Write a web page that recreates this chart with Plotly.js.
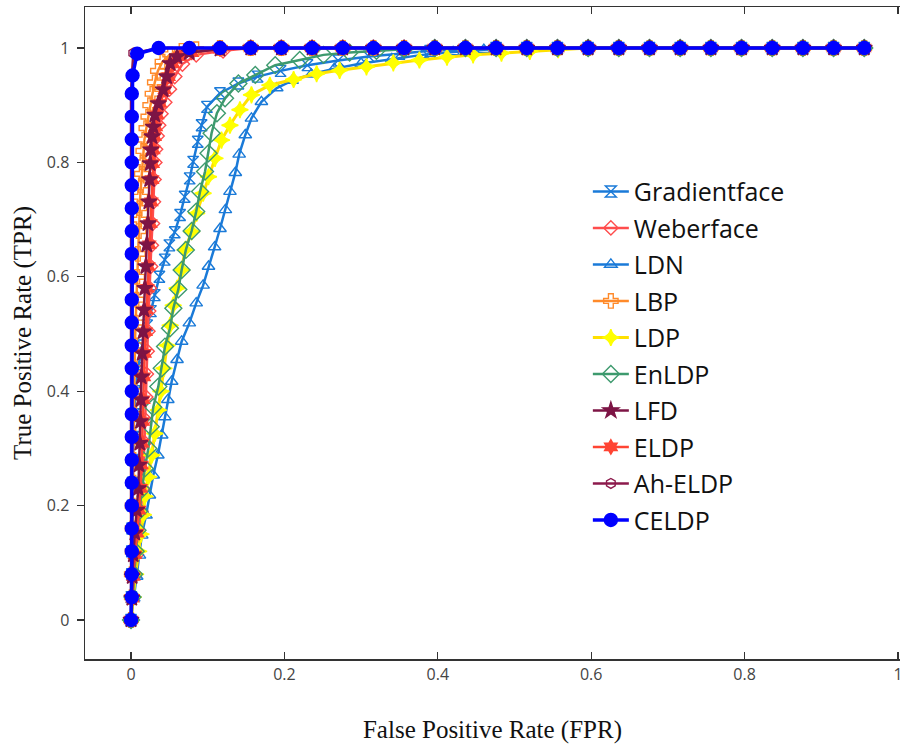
<!DOCTYPE html>
<html>
<head>
<meta charset="utf-8">
<script src="https://cdn.plot.ly/plotly-3.0.1.min.js"></script>
<style>html,body{margin:0;padding:0;background:#fff;overflow:hidden;}</style>
</head>
<body>
<div id="chart" style="width:901px;height:744px;"></div>
<script>
// ---- Data ----
const seriesNames = ["Gradientface","Weberface","LDN","LBP","LDP","EnLDP","LFD","ELDP","Ah-ELDP","CELDP"];

const gradientfaceFPR = [0,0.0005,0.001,0.001,0.0015,0.002,0.002,0.0025,0.003,0.004,0.006,0.009,0.015,0.021,0.026,0.031,0.037,0.044,0.050,0.057,0.064,0.070,0.0765,0.081,0.087,0.092,0.099,0.116,0.140,0.165,0.195,0.230,0.270,0.310,0.350,0.390,0.436,0.476,0.516,0.556,0.596,0.636,0.676,0.716,0.756,0.796,0.836,0.876,0.916,0.956];
const gradientfaceTPR = [0,0.04,0.08,0.12,0.16,0.2,0.24,0.28,0.32,0.36,0.40,0.44,0.48,0.515,0.54,0.568,0.60,0.63,0.655,0.678,0.708,0.740,0.772,0.801,0.836,0.865,0.897,0.921,0.938,0.950,0.960,0.970,0.978,0.985,0.990,0.995,0.998,1,1,1,1,1,1,1,1,1,1,1,1,1];

const weberfaceFPR = [0,0.002,0.004,0.007,0.010,0.013,0.015,0.0165,0.0175,0.0185,0.0192,0.020,0.021,0.022,0.023,0.024,0.0255,0.0265,0.028,0.0292,0.030,0.031,0.032,0.034,0.036,0.039,0.044,0.050,0.057,0.067,0.085,0.120,0.156,0.196,0.236,0.276,0.316,0.356,0.396,0.436,0.476,0.516,0.556,0.596,0.636,0.676,0.716,0.756,0.796,0.836,0.876,0.916,0.956];
const weberfaceTPR = [0,0.04,0.076,0.114,0.152,0.19,0.23,0.27,0.31,0.35,0.39,0.43,0.47,0.505,0.54,0.58,0.618,0.655,0.693,0.731,0.77,0.80,0.823,0.846,0.865,0.885,0.905,0.928,0.95,0.972,0.988,0.995,1,1,1,1,1,1,1,1,1,1,1,1,1,1,1,1,1,1,1,1,1];

const ldnFPR = [0,0.0035,0.0074,0.011,0.014,0.0196,0.024,0.029,0.035,0.040,0.044,0.048,0.053,0.060,0.066,0.076,0.085,0.094,0.101,0.109,0.116,0.123,0.129,0.136,0.141,0.149,0.157,0.170,0.190,0.210,0.235,0.265,0.300,0.340,0.380,0.420,0.460,0.516,0.556,0.596,0.636,0.676,0.716,0.756,0.796,0.836,0.876,0.916,0.956];
const ldnTPR = [0,0.038,0.076,0.113,0.148,0.183,0.218,0.253,0.288,0.323,0.355,0.385,0.417,0.455,0.487,0.519,0.554,0.585,0.618,0.652,0.684,0.717,0.749,0.782,0.814,0.848,0.877,0.906,0.930,0.943,0.954,0.964,0.973,0.981,0.988,0.993,0.997,1,1,1,1,1,1,1,1,1,1,1,1];

const lbpFPR = [0,0.001,0.001,0.002,0.002,0.002,0.003,0.003,0.003,0.004,0.004,0.005,0.005,0.006,0.007,0.008,0.009,0.010,0.0105,0.011,0.012,0.013,0.014,0.015,0.016,0.0175,0.020,0.0225,0.025,0.028,0.031,0.035,0.041,0.051,0.066,0.085,0.116,0.156,0.196,0.236,0.276,0.316,0.356,0.396,0.436,0.476,0.516,0.556,0.596,0.636,0.676,0.716,0.756,0.796,0.836,0.876,0.916,0.956];
const lbpTPR = [0,0.04,0.08,0.12,0.16,0.2,0.24,0.28,0.32,0.36,0.4,0.44,0.48,0.52,0.56,0.6,0.64,0.68,0.70,0.72,0.74,0.76,0.78,0.80,0.82,0.84,0.86,0.88,0.90,0.92,0.94,0.96,0.976,0.989,0.995,0.998,1,1,1,1,1,1,1,1,1,1,1,1,1,1,1,1,1,1,1,1,1,1];

const ldpFPR = [0,0.003,0.006,0.010,0.013,0.016,0.018,0.0226,0.027,0.031,0.0356,0.039,0.043,0.047,0.051,0.055,0.060,0.066,0.0704,0.079,0.0856,0.094,0.101,0.1095,0.118,0.129,0.142,0.157,0.181,0.212,0.242,0.272,0.307,0.342,0.376,0.412,0.446,0.483,0.520,0.557,0.596,0.636,0.676,0.716,0.756,0.796,0.836,0.876,0.916,0.956];
const ldpTPR = [0,0.04,0.08,0.12,0.15,0.184,0.216,0.25,0.288,0.326,0.367,0.40,0.44,0.48,0.515,0.55,0.58,0.612,0.647,0.679,0.711,0.746,0.775,0.807,0.839,0.865,0.892,0.918,0.935,0.945,0.955,0.961,0.967,0.974,0.979,0.984,0.988,0.991,0.994,0.997,1,1,1,1,1,1,1,1,1,1];

const enldpFPR = [0,0.002,0.004,0.006,0.0085,0.0105,0.014,0.018,0.0226,0.0257,0.029,0.0356,0.040,0.0443,0.0508,0.0552,0.0617,0.066,0.0715,0.079,0.085,0.090,0.0965,0.101,0.105,0.112,0.1226,0.140,0.162,0.188,0.220,0.251,0.285,0.320,0.356,0.396,0.436,0.476,0.516,0.556,0.596,0.636,0.676,0.716,0.756,0.796,0.836,0.876,0.916,0.956];
const enldpTPR = [0,0.04,0.08,0.12,0.157,0.19,0.228,0.265,0.30,0.338,0.372,0.408,0.44,0.478,0.51,0.545,0.578,0.612,0.647,0.68,0.714,0.749,0.784,0.816,0.851,0.886,0.912,0.938,0.953,0.970,0.979,0.988,0.992,0.995,0.998,1,1,1,1,1,1,1,1,1,1,1,1,1,1,1];

const lfdFPR = [0,0.001,0.0015,0.003,0.005,0.0074,0.0095,0.0105,0.0115,0.0122,0.0128,0.0135,0.0145,0.0158,0.017,0.018,0.0193,0.0205,0.022,0.0232,0.0242,0.025,0.0258,0.0275,0.029,0.031,0.0356,0.042,0.0465,0.051,0.060,0.076,0.116,0.156,0.196,0.236,0.276,0.316,0.356,0.396,0.436,0.476,0.516,0.556,0.596,0.636,0.676,0.716,0.756,0.796,0.836,0.876,0.916,0.956];
const lfdTPR = [0,0.038,0.076,0.114,0.152,0.192,0.23,0.271,0.309,0.347,0.385,0.425,0.466,0.504,0.542,0.58,0.618,0.656,0.693,0.731,0.77,0.798,0.822,0.845,0.862,0.883,0.903,0.927,0.95,0.973,0.985,0.992,0.998,1,1,1,1,1,1,1,1,1,1,1,1,1,1,1,1,1,1,1,1,1];

const eldpFPR = [0,0.002,0.003,0.005,0.008,0.0105,0.0125,0.0137,0.0147,0.0155,0.0161,0.0168,0.0178,0.0191,0.0203,0.0213,0.0226,0.0238,0.0253,0.0265,0.0275,0.0283,0.0291,0.0308,0.0323,0.0343,0.038,0.044,0.049,0.055,0.064,0.079,0.116,0.156,0.196,0.236,0.276,0.316,0.356,0.396,0.436,0.476,0.516,0.556,0.596,0.636,0.676,0.716,0.756,0.796,0.836,0.876,0.916,0.956];
const eldpTPR = [0,0.038,0.076,0.114,0.152,0.192,0.23,0.271,0.309,0.347,0.385,0.425,0.466,0.504,0.542,0.58,0.618,0.656,0.693,0.731,0.77,0.798,0.822,0.845,0.862,0.883,0.903,0.927,0.95,0.972,0.985,0.992,0.998,1,1,1,1,1,1,1,1,1,1,1,1,1,1,1,1,1,1,1,1,1];

const ahEldpFPR = [0,0,0,0,0,0,0,0,0,0,0,0,0,0,0,0,0,0,0,0,0,0,0,0,0.001,0.003,0.036,0.076,0.116,0.156,0.196,0.236,0.276,0.316,0.356,0.396,0.436,0.476,0.516,0.556,0.596,0.636,0.676,0.716,0.756,0.796,0.836,0.876,0.916,0.956];
const ahEldpTPR = [0,0.04,0.08,0.12,0.16,0.2,0.24,0.28,0.32,0.36,0.4,0.44,0.48,0.52,0.56,0.6,0.64,0.68,0.72,0.76,0.8,0.84,0.88,0.92,0.95,0.991,1,1,1,1,1,1,1,1,1,1,1,1,1,1,1,1,1,1,1,1,1,1,1,1];

const celdpFPR = [0,0.001,0.001,0.001,0.001,0.001,0.001,0.001,0.001,0.001,0.001,0.001,0.001,0.001,0.001,0.001,0.001,0.001,0.001,0.001,0.001,0.001,0.001,0.001,0.002,0.008,0.036,0.076,0.116,0.156,0.196,0.236,0.276,0.316,0.356,0.396,0.436,0.476,0.516,0.556,0.596,0.636,0.676,0.716,0.756,0.796,0.836,0.876,0.916,0.956];
const celdpTPR = [0,0.04,0.08,0.12,0.16,0.2,0.24,0.28,0.32,0.36,0.4,0.44,0.48,0.52,0.56,0.6,0.64,0.68,0.72,0.76,0.8,0.84,0.88,0.92,0.952,0.99,1,1,1,1,1,1,1,1,1,1,1,1,1,1,1,1,1,1,1,1,1,1,1,1];

const xTickVals = [0,0.2,0.4,0.6,0.8,1];
const xTickText = ["0","0.2","0.4","0.6","0.8","1"];
const yTickVals = [0,0.2,0.4,0.6,0.8,1];
const yTickText = ["0","0.2","0.4","0.6","0.8","1"];

// ---- Styles ----
const styles = {
  "Gradientface": {color:"#1a7ad8", symbol:"hourglass-open", size:11, width:2.5, mcolor:"#1a7ad8"},
  "Weberface":    {color:"#ff4d4d", symbol:"diamond-open", size:11, width:2.5, mcolor:"#ff4d4d"},
  "LDN":          {color:"#1a7ad8", symbol:"triangle-up-open", size:11, width:2.5, mcolor:"#1a7ad8"},
  "LBP":          {color:"#ff8a2a", symbol:"cross-open", size:12, width:2.5, mcolor:"#ff8a2a"},
  "LDP":          {color:"#ffe000", symbol:"star-diamond", size:12, width:3, mcolor:"#ffff00"},
  "EnLDP":        {color:"#3d9a6e", symbol:"diamond-open", size:13, width:2.5, mcolor:"#3d9a6e"},
  "LFD":          {color:"#7d1445", symbol:"star", size:12, width:2.5, mcolor:"#7d1445"},
  "ELDP":         {color:"#ff4433", symbol:"hexagram", size:11, width:2.5, mcolor:"#ff4433"},
  "Ah-ELDP":      {color:"#8c1a4c", symbol:"hexagon-open", size:10, width:2.5, mcolor:"#8c1a4c"},
  "CELDP":        {color:"#0000ff", symbol:"circle", size:13, width:3.5, mcolor:"#0000ff"}
};

const dataX = [gradientfaceFPR, weberfaceFPR, ldnFPR, lbpFPR, ldpFPR, enldpFPR, lfdFPR, eldpFPR, ahEldpFPR, celdpFPR];
const dataY = [gradientfaceTPR, weberfaceTPR, ldnTPR, lbpTPR, ldpTPR, enldpTPR, lfdTPR, eldpTPR, ahEldpTPR, celdpTPR];

// drawing order (LFD drawn above ELDP); legend order kept via legendrank
const drawOrder = [0,1,2,3,4,5,7,6,8,9];

const traces = drawOrder.map((i) => {
  const name = seriesNames[i];
  const s = styles[name];
  return {
    type: "scatter", mode: "lines+markers", name: name,
    x: dataX[i], y: dataY[i],
    legendgroup: "g" + i, legendrank: 1000 + i,
    line: {color: s.color, width: s.width},
    marker: {symbol: s.symbol, size: s.size, color: s.mcolor,
             line: {color: s.mcolor, width: 1.4}},
    hoverinfo: "skip"
  };
});

const axisFont = {family: "Open Sans, sans-serif", size: 16, color: "#444"};
const titleFont = {family: "Liberation Serif, Times New Roman, serif", size: 25, color: "#111"};

const layout = {
  width: 901, height: 744,
  margin: {l: 85, r: 1, t: 7, b: 85},
  paper_bgcolor: "#fff", plot_bgcolor: "#fff",
  showlegend: true,
  xaxis: {
    range: [-0.06, 1.0026], tickmode: "array", tickvals: xTickVals, ticktext: xTickText,
    ticks: "inside", ticklen: 7, tickwidth: 1.2, tickcolor: "#333",
    showline: true, linecolor: "#333", linewidth: 1.5, mirror: "ticks",
    showgrid: false, zeroline: false, tickfont: axisFont, automargin: false,
    ticklabeloverflow: "allow",
    title: {text: "False Positive Rate (FPR)", font: titleFont, standoff: 38}
  },
  yaxis: {
    range: [-0.0682, 1.0717], tickmode: "array", tickvals: yTickVals, ticktext: yTickText,
    ticks: "outside", ticklen: 7, tickwidth: 1.2, tickcolor: "#333",
    showline: true, linecolor: "#333", linewidth: 1.5,
    showgrid: false, zeroline: false, tickfont: axisFont, automargin: false,
    ticklabelstandoff: 4, ticklabeloverflow: "allow",
    title: {text: "True Positive Rate (TPR)", font: titleFont, standoff: 8}
  },
  legend: {
    x: 0.617, y: 0.752, xanchor: "left", yanchor: "top",
    bgcolor: "rgba(255,255,255,0)", borderwidth: 0,
    font: {family: "Open Sans, sans-serif", size: 25, color: "#111"},
    tracegroupgap: 1, itemwidth: 36, traceorder: "grouped"
  }
};

Plotly.newPlot("chart", traces, layout, {displayModeBar: false, staticPlot: true});
</script>
</body>
</html>
